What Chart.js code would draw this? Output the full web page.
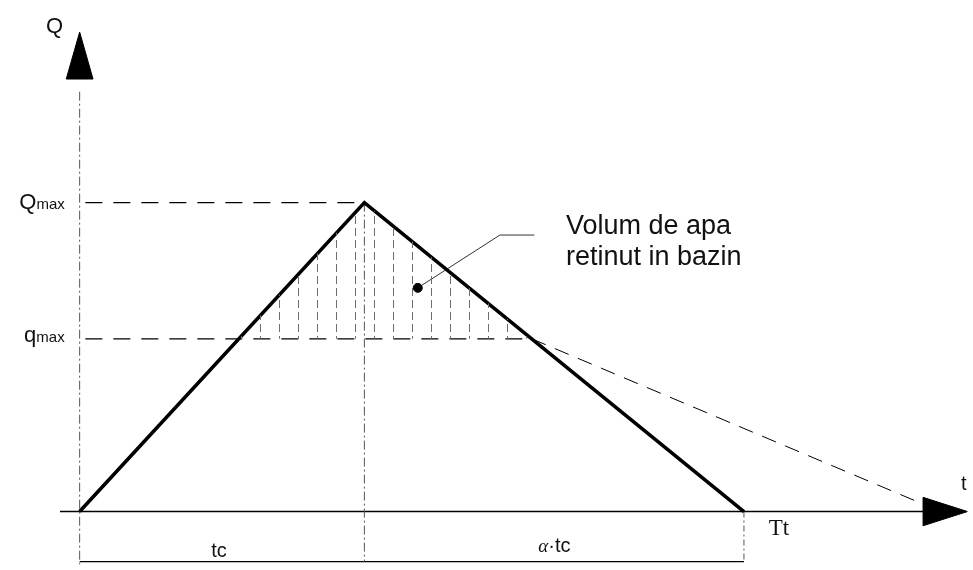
<!DOCTYPE html>
<html>
<head>
<meta charset="utf-8">
<script src="https://cdn.jsdelivr.net/npm/chart.js@4/dist/chart.umd.min.js"></script>
<style>
  html, body { margin: 0; padding: 0; background: #fff; }
  #wrap { width: 973px; height: 570px; }
</style>
</head>
<body>
<div id="wrap"><canvas id="c" width="973" height="570"></canvas></div>
<script>
// ---------- data ----------
const hydroT = [0, 1, 2.333];          // 0, tc, Tt = tc + alpha*tc
const hydroQ = [0, 1, 0];              // 0, Qmax, 0
const Qmax = 1;
const qmax = 0.559;
const tc = 1;
const Tt = 2.333;
const outflowT = [1.588, 3.024];       // dashed outflow recession
const outflowQ = [0.559, 0];
const retainedT = [0.559, 1, 1.588];   // retained volume (hatched) above qmax
const retainedQ = [0.559, 1, 0.559];
const leaderT = [1.1875, 1.476, 1.597];
const leaderQ = [0.724, 0.895, 0.895];
const axisLabels = ['Q', 't', 'Qmax', 'qmax', 'tc', 'α·tc', 'Tt'];
const noteLines = ['Volum de apa', 'retinut in bazin'];

// ---------- helpers ----------
const pts = (xs, ys) => xs.map((x, i) => ({ x: x, y: ys[i] }));

function hatchPattern() {
  const c = document.createElement('canvas');
  c.width = 19; c.height = 12;
  const g = c.getContext('2d');
  g.strokeStyle = '#6e6e6e';
  g.lineWidth = 1;
  g.beginPath();
  g.moveTo(13.5, 0); g.lineTo(13.5, 8);
  g.stroke();
  return g.createPattern(c, 'repeat');
}

const lineDs = (data, opts) => Object.assign({
  data: data, borderColor: '#000', borderWidth: 1, pointRadius: 0,
  fill: false, tension: 0
}, opts);

const closed = (xs, ys) => pts(xs.concat([xs[0]]), ys.concat([ys[0]]));

const datasets = [
  // hatched retained volume
  lineDs(closed(retainedT, retainedQ), {
    borderWidth: 0, borderColor: 'rgba(0,0,0,0)', fill: 'shape', backgroundColor: hatchPattern()
  }),
  // hydrograph
  lineDs(pts(hydroT, hydroQ), { borderWidth: 3.6, borderJoinStyle: 'miter' }),
  // Qmax dashed level
  lineDs(pts([0.02, tc], [Qmax, Qmax]), { borderWidth: 1.3, borderDash: [17, 11] }),
  // qmax dashed level
  lineDs(pts([0.02, outflowT[0]], [qmax, qmax]), { borderWidth: 1.3, borderDash: [17, 11] }),
  // outflow dashed
  lineDs(pts(outflowT, outflowQ), { borderWidth: 1, borderDash: [15, 10] }),
  // vertical at tc
  lineDs(pts([tc, tc], [Qmax, -0.162]), { borderWidth: 1, borderColor: '#555', borderDash: [9, 3, 2, 3] }),
  // vertical at Tt
  lineDs(pts([Tt, Tt], [0, -0.162]), { borderWidth: 1, borderColor: '#555', borderDash: [6, 3, 2, 3] }),
  // left y axis (thin dashed)
  lineDs(pts([0, 0], [1.359, -0.175]), { borderWidth: 1, borderColor: '#555', borderDash: [9, 3, 2, 3] }),
  // x axis
  lineDs(pts([-0.069, 2.962], [0, 0]), { borderWidth: 1.5 }),
  // bottom bracket
  lineDs(pts([0, Tt], [-0.162, -0.162]), { borderWidth: 1.3 }),
  // y arrow head
  lineDs(closed([-0.047, 0, 0.047], [1.400, 1.552, 1.400]), {
    borderWidth: 1, fill: 'shape', backgroundColor: '#000'
  }),
  // x arrow head
  lineDs(closed([2.962, 3.118, 2.962], [0.046, 0, -0.046]), {
    borderWidth: 1, fill: 'shape', backgroundColor: '#000'
  }),
  // leader line with dot
  lineDs(pts(leaderT, leaderQ), {
    borderWidth: 1, borderColor: '#333',
    pointRadius: [4.5, 0, 0], pointBackgroundColor: '#000', pointBorderColor: '#000'
  })
];

// ---------- text labels placed through the scales ----------
const labelLayout = [
  { parts: [[axisLabels[0], '22px "Liberation Sans"']], x: -0.118, y: 1.549 },
  { parts: [[axisLabels[1], '20px "Liberation Sans"']], x: 3.095, y: 0.070 },
  { parts: [['Q', '22px "Liberation Sans"'], ['max', '15px "Liberation Sans"']], x: -0.212, y: 0.978 },
  { parts: [['q', '22px "Liberation Sans"'], ['max', '15px "Liberation Sans"']], x: -0.195, y: 0.549 },
  { parts: [['tc', '20px "Liberation Sans"']], x: 0.462, y: -0.146 },
  { parts: [['α', 'italic 19px "Liberation Serif"'], ['·tc', '20px "Liberation Sans"']], x: 1.611, y: -0.130 },
  { parts: [['Tt', '23px "Liberation Serif"']], x: 2.420, y: -0.076 },
  { parts: [[noteLines[0], '27px "Liberation Sans"']], x: 1.708, y: 0.898 },
  { parts: [[noteLines[1], '27px "Liberation Sans"']], x: 1.708, y: 0.797 }
];

const textPlugin = {
  id: 'texts',
  afterDatasetsDraw(chart) {
    const ctx = chart.ctx, xs = chart.scales.x, ys = chart.scales.y;
    ctx.save();
    ctx.fillStyle = '#111';
    ctx.textBaseline = 'alphabetic';
    ctx.textAlign = 'left';
    labelLayout.forEach(l => {
      let px = xs.getPixelForValue(l.x);
      const py = ys.getPixelForValue(l.y);
      l.parts.forEach(([t, f]) => {
        ctx.font = f;
        ctx.fillText(t, px, py);
        px += ctx.measureText(t).width;
      });
    });
    ctx.restore();
  }
};

new Chart(document.getElementById('c'), {
  type: 'line',
  data: { datasets: datasets },
  options: {
    responsive: false,
    animation: false,
    devicePixelRatio: 1,
    layout: { padding: 0 },
    plugins: { legend: { display: false }, tooltip: { enabled: false } },
    scales: {
      x: { type: 'linear', display: false, min: -0.2604, max: 3.1181 },
      y: { type: 'linear', display: false, min: -0.1714, max: 1.638 }
    }
  },
  plugins: [textPlugin]
});
</script>
</body>
</html>
